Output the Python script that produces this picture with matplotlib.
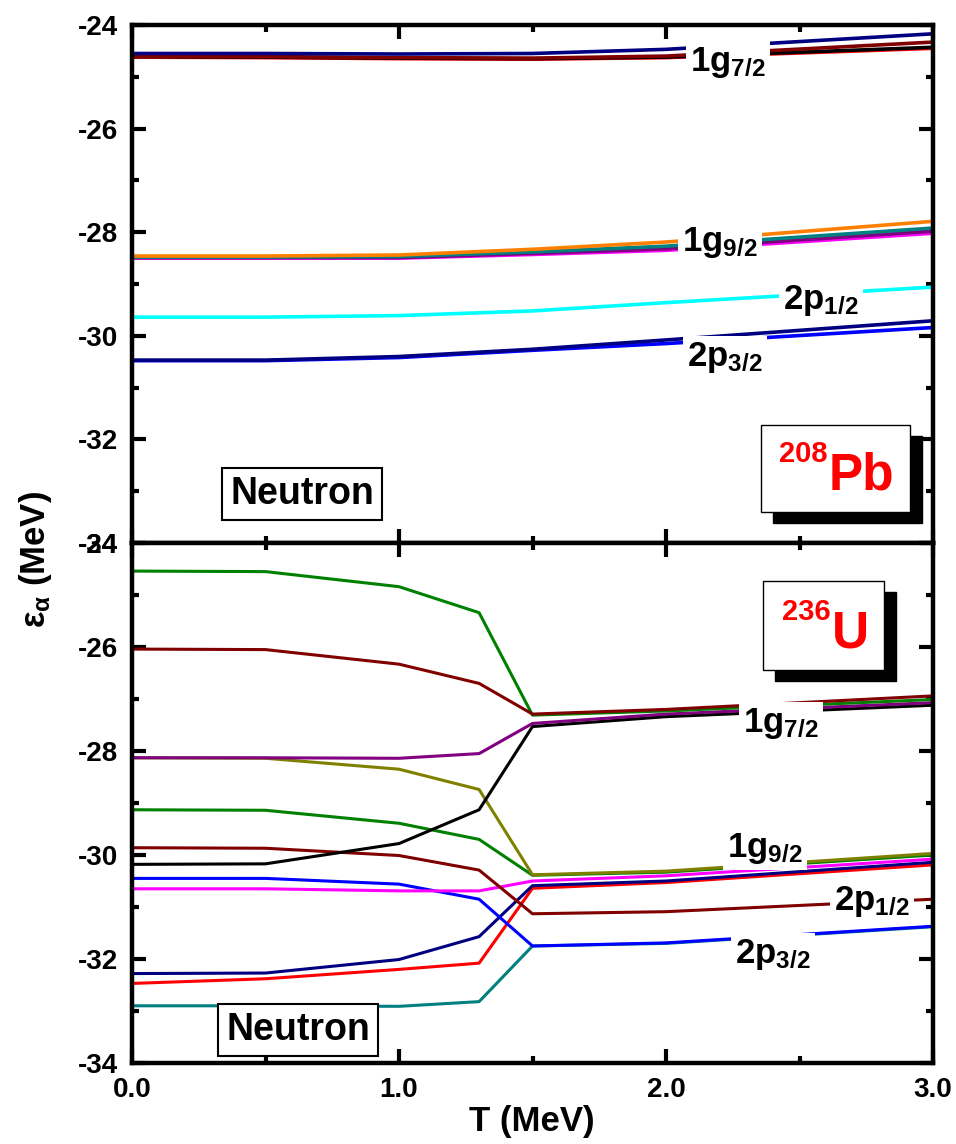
import matplotlib
matplotlib.use('Agg')
import matplotlib.pyplot as plt
from matplotlib.patches import Rectangle
from matplotlib.ticker import MultipleLocator, FormatStrFormatter

plt.rcParams['font.family'] = ['Liberation Sans', 'DejaVu Sans']
plt.rcParams['font.weight'] = 'bold'
plt.rcParams['axes.unicode_minus'] = False
plt.rcParams['mathtext.fontset'] = 'custom'
plt.rcParams['mathtext.rm'] = 'Liberation Sans:bold'
plt.rcParams['mathtext.bf'] = 'Liberation Sans:bold'
plt.rcParams['mathtext.it'] = 'Liberation Sans:bold'

# ---- 208Pb (top panel) ----
t_pb = [0.0, 0.5, 1.0, 1.5, 2.0, 3.0]
pb_series = [
    ('#ff0000', [-24.62, -24.63, -24.65, -24.66, -24.63, -24.45]),
    ('#000000', [-24.61, -24.62, -24.64, -24.65, -24.62, -24.43]),
    ('#800000', [-24.60, -24.61, -24.63, -24.64, -24.60, -24.33]),
    ('#000080', [-24.55, -24.55, -24.56, -24.55, -24.47, -24.17]),
    ('#ff00ff', [-28.50, -28.50, -28.50, -28.43, -28.35, -28.02]),
    ('#800080', [-28.49, -28.49, -28.49, -28.41, -28.32, -27.98]),
    ('#008080', [-28.48, -28.48, -28.47, -28.38, -28.27, -27.92]),
    ('#ff8000', [-28.46, -28.46, -28.44, -28.33, -28.19, -27.79]),
    ('#00ffff', [-29.64, -29.64, -29.61, -29.52, -29.36, -29.06]),
    ('#0000ff', [-30.48, -30.48, -30.42, -30.28, -30.15, -29.84]),
    ('#000080', [-30.47, -30.47, -30.40, -30.26, -30.08, -29.71]),
]
pb_labels = [('1g', '7/2', 2.09, -24.88), ('1g', '9/2', 2.06, -28.37),
             ('2p', '1/2', 2.44, -29.49), ('2p', '3/2', 2.08, -30.59)]

# ---- 236U (bottom panel) ----
t_u = [0.0, 0.5, 1.0, 1.3, 1.5, 2.0, 3.0]
u_series = [
    ('#008080', [-32.90, -32.90, -32.91, -32.82, -31.75, -31.70, -31.38]),
    ('#ff0000', [-32.47, -32.38, -32.20, -32.08, -30.64, -30.53, -30.19]),
    ('#000080', [-32.28, -32.27, -32.01, -31.57, -30.59, -30.50, -30.14]),
    ('#0000ff', [-30.45, -30.45, -30.56, -30.85, -31.75, -31.69, -31.37]),
    ('#ff00ff', [-30.65, -30.65, -30.69, -30.69, -30.50, -30.40, -30.08]),
    ('#800000', [-29.86, -29.87, -30.01, -30.29, -31.13, -31.09, -30.85]),
    ('#008000', [-29.13, -29.14, -29.39, -29.70, -30.39, -30.33, -30.00]),
    ('#808000', [-28.13, -28.14, -28.35, -28.74, -30.38, -30.31, -29.97]),
    ('#000000', [-30.18, -30.17, -29.78, -29.13, -27.53, -27.34, -27.12]),
    ('#800080', [-28.13, -28.13, -28.14, -28.05, -27.47, -27.29, -27.07]),
    ('#008000', [-24.54, -24.55, -24.84, -25.34, -27.31, -27.23, -27.01]),
    ('#800000', [-26.04, -26.05, -26.33, -26.70, -27.29, -27.20, -26.94]),
]
u_labels = [('1g', '7/2', 2.29, -27.63), ('1g', '9/2', 2.23, -30.04),
            ('2p', '1/2', 2.63, -31.06), ('2p', '3/2', 2.26, -32.08)]

W, H = 956, 1144
fig = plt.figure(figsize=(W / 100, H / 100), dpi=100)


def fx(x):
    return x / W


def fy(y):
    return 1 - y / H


ax1 = fig.add_axes([fx(132), fy(543), fx(933) - fx(132), fy(25) - fy(543)])
ax2 = fig.add_axes([fx(132), fy(1063), fx(933) - fx(132), fy(543) - fy(1063)])


def style_axis(ax, show_x):
    ax.set_xlim(0, 3)
    ax.set_ylim(-34, -24)
    ax.xaxis.set_major_locator(MultipleLocator(1))
    ax.xaxis.set_minor_locator(MultipleLocator(0.5))
    ax.yaxis.set_major_locator(MultipleLocator(2))
    ax.yaxis.set_minor_locator(MultipleLocator(1))
    ax.xaxis.set_major_formatter(FormatStrFormatter('%.1f'))
    ax.tick_params(which='both', direction='in', top=True, right=True, width=3)
    ax.tick_params(which='major', length=10, labelsize=20, pad=10)
    ax.tick_params(which='minor', length=5)
    if not show_x:
        ax.tick_params(axis='x', labelbottom=False)
    for s in ax.spines.values():
        s.set_linewidth(3.2)
    for lab in ax.get_xticklabels() + ax.get_yticklabels():
        lab.set_fontweight('bold')


def add_labels(ax, labels):
    for main, sub, x, y in labels:
        ax.text(x, y, r'$\mathrm{%s_{%s}}$' % (main, sub), fontsize=25,
                ha='left', va='baseline', zorder=5,
                bbox=dict(facecolor='white', edgecolor='none', pad=3))


for c, v in pb_series:
    ax1.plot(t_pb, v, color=c, lw=2.6)
for c, v in u_series:
    ax2.plot(t_u, v, color=c, lw=2.2)

style_axis(ax1, False)
style_axis(ax2, True)
add_labels(ax1, pb_labels)
add_labels(ax2, u_labels)

# Neutron boxes
for cx, cy in [(302, 494), (298, 1030)]:
    fig.text(fx(cx), fy(cy), 'Neutron', fontsize=27, fontweight='bold', ha='center', va='center',
             bbox=dict(facecolor='white', edgecolor='black', lw=1.5, boxstyle='square,pad=0.22'))

# nucleus boxes with shadow
for (x0, y0, x1, y1), num, sym, numx, numy, symx, symy in [
        ((761, 425, 910, 512), '208', 'Pb', 779, 462, 829, 490),
        ((763, 581, 884, 670), '236', 'U', 782, 620, 832, 648)]:
    fig.add_artist(Rectangle((fx(x0 + 12), fy(y1 + 11)), fx(x1 - x0), fy(y0) - fy(y1),
                             transform=fig.transFigure, facecolor='black', edgecolor='black'))
    fig.add_artist(Rectangle((fx(x0), fy(y1)), fx(x1 - x0), fy(y0) - fy(y1),
                             transform=fig.transFigure, facecolor='white', edgecolor='black', lw=1))
    fig.text(fx(numx), fy(numy), num, fontsize=21, color='red', fontweight='bold', va='baseline')
    fig.text(fx(symx), fy(symy), sym, fontsize=37, color='red', fontweight='bold', va='baseline')

fig.text(fx(532), fy(1122), 'T (MeV)', fontsize=25, fontweight='bold', ha='center', va='center')
fig.text(fx(35), fy(560), r'$\varepsilon_{\alpha}$ (MeV)', fontsize=25, fontweight='bold',
         ha='center', va='center', rotation=90)

fig.savefig('out.png', dpi=100)
